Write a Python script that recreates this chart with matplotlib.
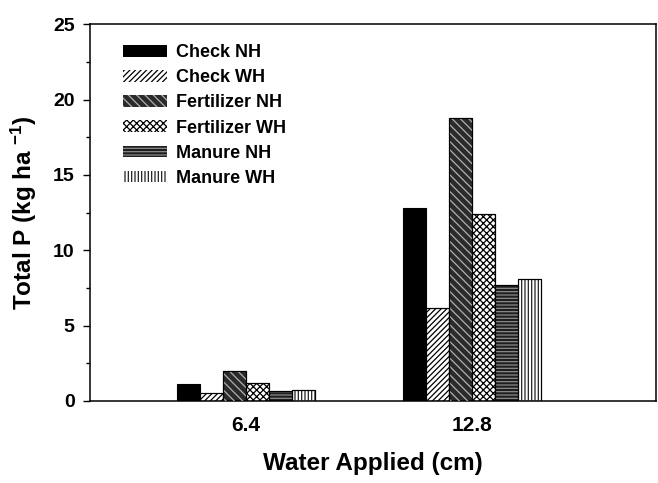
import matplotlib
matplotlib.use("Agg")
import matplotlib.pyplot as plt
from matplotlib.patches import Patch
from matplotlib.ticker import MultipleLocator

plt.rcParams['font.family'] = ['Liberation Sans', 'DejaVu Sans']
plt.rcParams['font.weight'] = 'bold'
plt.rcParams['mathtext.fontset'] = 'custom'
plt.rcParams['mathtext.bf'] = 'Liberation Sans:bold'
plt.rcParams['mathtext.rm'] = 'Liberation Sans:bold'
plt.rcParams['mathtext.default'] = 'bf'
plt.rcParams['hatch.linewidth'] = 0.9

# data
water = ['6.4', '12.8']
series = ['Check NH', 'Check WH', 'Fertilizer NH', 'Fertilizer WH',
          'Manure NH', 'Manure WH']
values = [
    [1.1, 12.8],   # Check NH
    [0.5, 6.2],    # Check WH
    [2.0, 18.8],   # Fertilizer NH
    [1.2, 12.4],   # Fertilizer WH
    [0.65, 7.7],   # Manure NH
    [0.75, 8.1],   # Manure WH
]

# (face colour, hatch, hatch colour)
styles = [
    ('black', '', 'black'),
    ('white', '//////', 'black'),
    ('#2b2b2b', '\\\\\\\\', '#b0b0b0'),
    ('white', 'xxxxx', 'black'),
    ('#1e1e1e', '-----', '#8a8a8a'),
    ('white', '|||||', '#222222'),
]

fig = plt.figure(figsize=(6.58, 4.83), dpi=100)
ax = fig.add_axes([0.1368, 0.1698, 0.997 - 0.1368, 0.950 - 0.1698])

width = 0.1015
pos = list(range(len(water)))
handles = []
for i, (name, vals) in enumerate(zip(series, values)):
    fc, hatch, hc = styles[i]
    xs = [p + (i - 2.5) * width for p in pos]
    ax.bar(xs, vals, width=width, color=fc, edgecolor='black',
           linewidth=0.8, zorder=2)
    if hatch:
        ax.bar(xs, vals, width=width, color='none', edgecolor=hc,
               hatch=hatch, linewidth=0, zorder=3)
        ax.bar(xs, vals, width=width, color='none', edgecolor='black',
               linewidth=0.8, zorder=4)
    h = Patch(facecolor=fc, edgecolor=hc, hatch=hatch, linewidth=0)
    handles.append(h)

ax.set_xlim(-0.69, 1.814)
ax.set_ylim(0, 25)
ax.set_xticks(pos)
ax.set_xticklabels(water, fontsize=15, fontweight='bold')
ax.tick_params(axis='x', length=0, pad=11)
ax.yaxis.set_major_locator(MultipleLocator(5))
ax.yaxis.set_minor_locator(MultipleLocator(2.5))
ax.tick_params(axis='y', which='major', length=5, width=1, labelsize=14, pad=6)
ax.tick_params(axis='y', which='minor', length=3, width=1)
for lab in ax.get_yticklabels():
    lab.set_fontweight('bold')
for sp in ax.spines.values():
    sp.set_linewidth(1.1)

ax.set_xlabel('Water Applied (cm)', fontsize=17.5, fontweight='bold', labelpad=12)
ax.set_ylabel(r'Total P (kg ha $^{-1}$)', fontsize=17.5, fontweight='bold',
              labelpad=10)

leg = ax.legend(handles, series, loc='upper left',
                bbox_to_anchor=(0.03, 0.99), frameon=False,
                handlelength=2.4, handleheight=0.6, labelspacing=0.45,
                handletextpad=0.5, prop={'size': 13, 'weight': 'bold'})

fig.savefig('out.png', dpi=100)
